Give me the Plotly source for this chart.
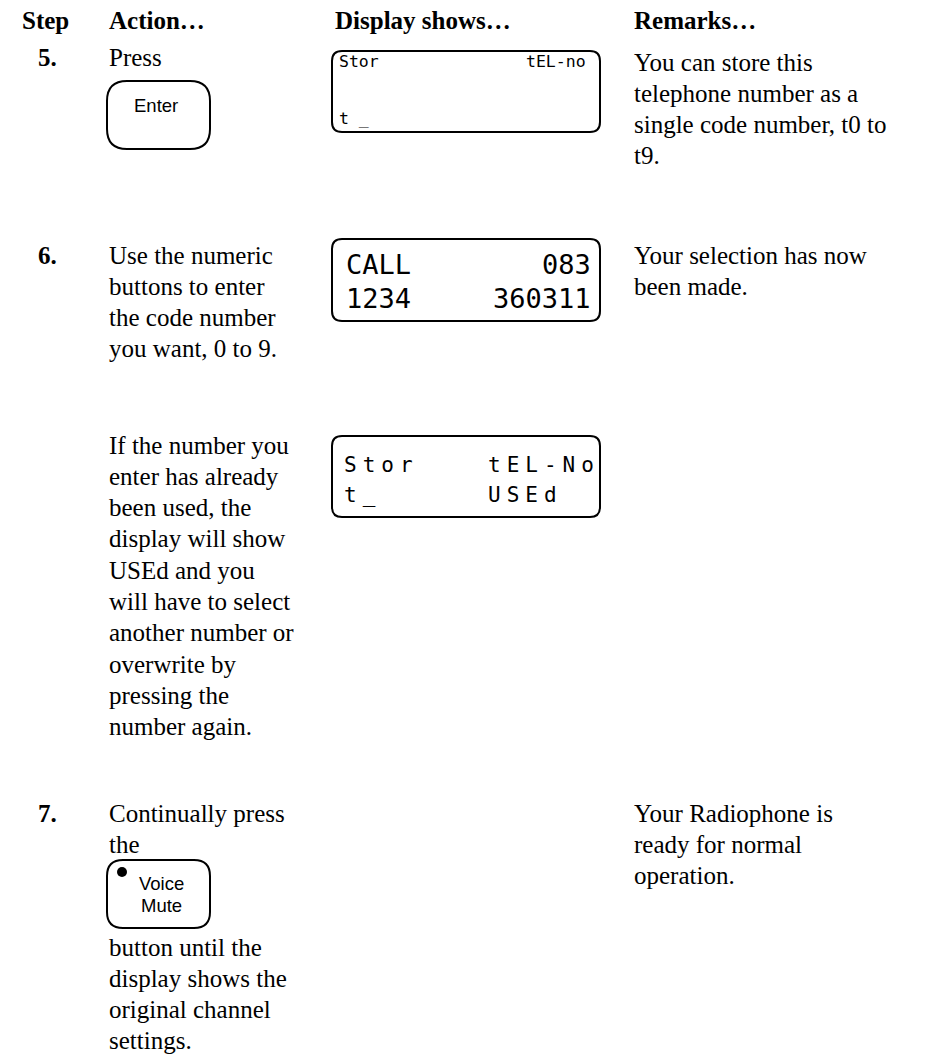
import plotly.graph_objects as go

# ---------------- content ----------------
headers = ["Step", "Action…", "Display shows…", "Remarks…"]
step_labels = ["5.", "6.", "7."]

action_5 = ["Press"]
action_6a = ["Use the numeric", "buttons to enter", "the code number", "you want, 0 to 9."]
action_6b = ["If the number you", "enter has already", "been used, the", "display will show",
             "USEd and you", "will have to select", "another number or", "overwrite by",
             "pressing the", "number again."]
action_7a = ["Continually press", "the"]
action_7b = ["button until the", "display shows the", "original channel", "settings."]

remarks_5 = ["You can store this", "telephone number as a", "single code number, t0 to", "t9."]
remarks_6 = ["Your selection has now", "been made."]
remarks_7 = ["Your Radiophone is", "ready for normal", "operation."]

button_enter = ["Enter"]
button_voice = ["Voice", "Mute"]

lcd1_rows = [("Stor", "tEL-no"), ("t _", "")]
lcd2_rows = [("CALL", "083"), ("1234", "360311")]
lcd3_rows = [("Stor", "tEL-No"), ("t_", "USEd")]

# ---------------- layout constants ----------------
W, H = 930, 1056
SERIF = "Liberation Serif"
SANS = "Liberation Sans"
MONO = "DejaVu Sans Mono"
FS = 25
PITCH = 31.3
X_STEP = 36
X_ACT = 107
X_DISP = 333
X_REM = 632
INK = "#000000"

fig = go.Figure()
ann = []


def text(x, y, s, size=FS, family=SERIF, bold=False, xanchor="left"):
    ann.append(dict(x=x, y=y, xref="x", yref="y", text=(f"<b>{s}</b>" if bold else s),
                    showarrow=False, xanchor=xanchor, yanchor="middle",
                    font=dict(family=family, size=size, color=INK)))


def block(x, y0, lines):
    for i, s in enumerate(lines):
        text(x, y0 + i * PITCH, s)


def rrect(x0, y0, x1, y1, r):
    p = (f"M{x0 + r},{y0} L{x1 - r},{y0} Q{x1},{y0} {x1},{y0 + r} "
         f"L{x1},{y1 - r} Q{x1},{y1} {x1 - r},{y1} L{x0 + r},{y1} "
         f"Q{x0},{y1} {x0},{y1 - r} L{x0},{y0 + r} Q{x0},{y0} {x0 + r},{y0} Z")
    return dict(type="path", path=p, xref="x", yref="y",
                line=dict(color=INK, width=2), fillcolor="rgba(0,0,0,0)")


shapes = []

# headers
for hx, h in zip([20, X_ACT, X_DISP, X_REM], headers):
    text(hx, 20, h, bold=True)

# step numbers
for sy, s in zip([57, 255, 813], step_labels):
    text(X_STEP, sy, s, bold=True)

# action column
block(X_ACT, 57, action_5)
block(X_ACT, 255, action_6a)
block(X_ACT, 445, action_6b)
block(X_ACT, 813, action_7a)
block(X_ACT, 947, action_7b)

# remarks column
block(X_REM, 62, remarks_5)
block(X_REM, 255, remarks_6)
block(X_REM, 813, remarks_7)

# buttons
shapes.append(rrect(107, 81, 210, 149, 20))
text(156, 105, button_enter[0], size=18.5, family=SANS, xanchor="center")
shapes.append(rrect(107, 860, 210, 928, 16))
text(161, 883, button_voice[0], size=18.5, family=SANS, xanchor="center")
text(161, 905, button_voice[1], size=18.5, family=SANS, xanchor="center")
shapes.append(dict(type="circle", xref="x", yref="y", x0=117, x1=127, y0=867, y1=877,
                   fillcolor=INK, line=dict(color=INK, width=0)))

# LCD displays
LCD_X0, LCD_X1 = 332, 600
shapes.append(rrect(LCD_X0, 51, LCD_X1, 132, 10))
shapes.append(rrect(LCD_X0, 239, LCD_X1, 321, 10))
shapes.append(rrect(LCD_X0, 436, LCD_X1, 517, 10))

# LCD 1
text(337, 61, lcd1_rows[0][0], size=16.5, family=MONO)
text(588, 61, lcd1_rows[0][1], size=16.5, family=MONO, xanchor="right")
text(337, 118, lcd1_rows[1][0], size=16.5, family=MONO)
# LCD 2
text(344, 264, lcd2_rows[0][0], size=27, family=MONO)
text(593, 264, lcd2_rows[0][1], size=27, family=MONO, xanchor="right")
text(344, 298, lcd2_rows[1][0], size=27, family=MONO)
text(593, 298, lcd2_rows[1][1], size=27, family=MONO, xanchor="right")
# LCD 3 (wider letter spacing)
sp = lambda s: f'<span style="letter-spacing:6px">{s}</span>'
text(342, 465, sp(lcd3_rows[0][0]), size=21, family=MONO)
text(486, 465, sp(lcd3_rows[0][1]), size=21, family=MONO)
text(342, 495, sp(lcd3_rows[1][0]), size=21, family=MONO)
text(486, 495, sp(lcd3_rows[1][1]), size=21, family=MONO)

fig.update_layout(
    width=W, height=H, margin=dict(l=0, r=0, t=0, b=0),
    paper_bgcolor="white", plot_bgcolor="white",
    xaxis=dict(range=[0, W], visible=False, fixedrange=True),
    yaxis=dict(range=[H, 0], visible=False, fixedrange=True),
    annotations=ann, shapes=shapes, showlegend=False,
)
fig.write_html("out.html", config={"displayModeBar": False},
               post_script="document.body.style.margin='0';document.body.style.overflow='hidden';")
